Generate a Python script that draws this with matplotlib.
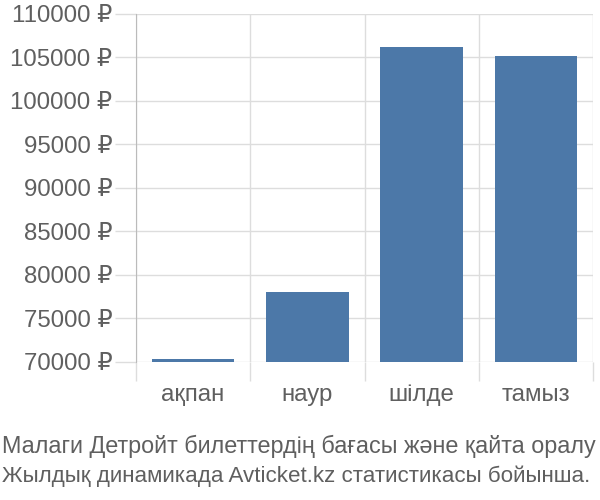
import matplotlib
matplotlib.use("Agg")
import matplotlib.pyplot as plt
import numpy as np

plt.rcParams['font.family'] = ['Liberation Sans', 'DejaVu Sans']

months = ["ақпан", "наур", "шілде", "тамыз"]
prices = [70300, 78060, 106260, 105200]
y_ticks = [70000, 75000, 80000, 85000, 90000, 95000, 100000, 105000, 110000]
caption = ["Малаги Детройт билеттердің бағасы және қайта оралу",
           "Жылдық динамикада Avticket.kz статистикасы бойынша."]

bar_color = "#4c78a8"
text_color = "#5f5f5f"
grid_color = "#dddddd"

fig = plt.figure(figsize=(6, 5), dpi=100)
ax = fig.add_axes([136 / 600, 1 - 362 / 500, 457 / 600, 348 / 500])

x = np.arange(len(months))
ax.bar(x, np.array(prices) - y_ticks[0], bottom=y_ticks[0], width=0.72,
       color=bar_color, zorder=3)

ax.set_xlim(-0.5, len(months) - 0.5)
ax.set_ylim(y_ticks[0], y_ticks[-1])

ax.set_yticks(y_ticks)
ax.set_yticklabels([f"{v} ₽" for v in y_ticks])
ax.set_xticks(np.arange(len(months) + 1) - 0.5)
ax.set_xticklabels([])
ax.set_xticks(x, minor=True)
ax.set_xticklabels(months, minor=True)

ax.tick_params(axis="y", length=15, width=1, color=grid_color, labelsize=17.3,
               labelcolor=text_color, pad=2)
ax.tick_params(axis="x", which="major", length=13.5, width=1, color=grid_color)
ax.tick_params(axis="x", which="minor", length=0, labelsize=17.3,
               labelcolor=text_color, pad=16)

ax.grid(True, which="major", color=grid_color, linewidth=1, zorder=0)
for side in ["top", "right", "bottom"]:
    ax.spines[side].set_visible(False)
ax.spines["left"].set_color("#bbbbbb")
ax.spines["left"].set_bounds(y_ticks[0], y_ticks[-1])

# caption lines, sized so each ends at the right edge
fig.text(2 / 600, 1 - 446 / 500, caption[0], fontsize=16.8, color=text_color,
         va="center", ha="left")
fig.text(2 / 600, 1 - 476 / 500, caption[1], fontsize=16.1, color=text_color,
         va="center", ha="left")

fig.savefig("out.png", dpi=100)
